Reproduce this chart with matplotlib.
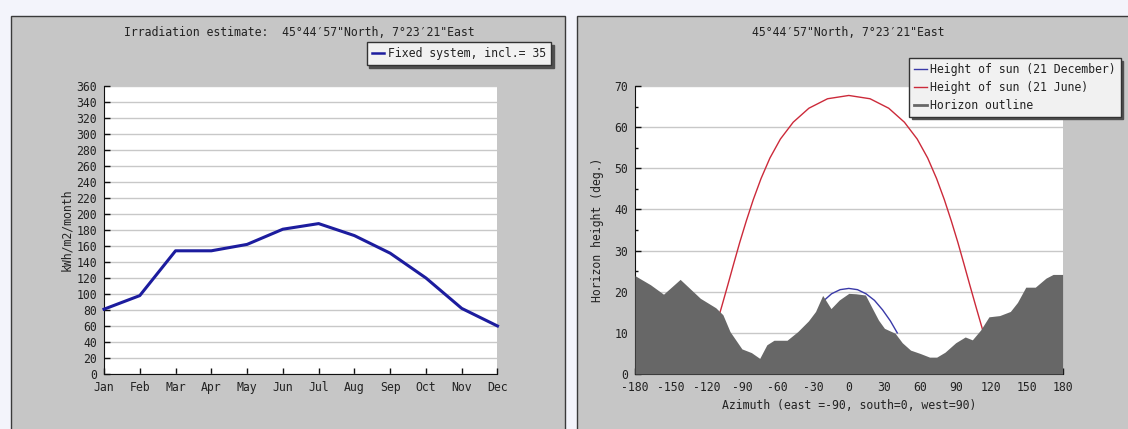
import matplotlib
matplotlib.use("Agg")
import matplotlib.pyplot as plt
from matplotlib.patches import Rectangle

# ---------------- data ----------------
months = ["Jan", "Feb", "Mar", "Apr", "May", "Jun", "Jul", "Aug", "Sep", "Oct", "Nov", "Dec"]
irradiation = [81, 98, 154, 154, 162, 181, 188, 173, 151, 120, 82, 60]
irr_yticks = list(range(0, 361, 20))

dec_az = [-20.0, -14.5, -7.3, 0.0, 7.3, 14.5, 21.6, 28.4, 35.0, 40.8]
dec_alt = [18.1, 19.5, 20.5, 20.8, 20.5, 19.5, 17.9, 15.6, 12.9, 10.0]

jun_az = [-108.4, -106.8, -101.9, -96.9, -91.8, -86.3, -80.4, -73.9, -66.4, -57.6, -46.8,
          -33.6, -17.9, 0.0, 17.9, 33.6, 46.8, 57.6, 66.4, 73.9, 80.4, 86.3, 91.8, 96.9,
          101.9, 106.8, 111.8, 112.6]
jun_alt = [15.0, 16.6, 21.6, 26.8, 32.0, 37.2, 42.4, 47.5, 52.5, 57.1, 61.2,
           64.6, 66.9, 67.7, 66.9, 64.6, 61.2, 57.1, 52.5, 47.5, 42.4, 37.2, 32.0, 26.8,
           21.6, 16.6, 11.6, 10.8]

hz_az = [-180, -167, -156, -142, -125, -112, -106, -100, -90, -82, -75, -69, -63, -52, -43,
         -34, -28, -22, -15, -8, 0, 6, 14, 19, 25, 30, 39, 45, 52, 60, 68, 74, 81, 90, 98,
         104, 111, 118, 127, 136, 142, 149, 157, 166, 172, 180]
hz_alt = [23.9, 21.7, 19.4, 23.0, 18.4, 16.1, 14.4, 10.3, 6.1, 5.2, 3.8, 7.1, 8.2, 8.2, 10.3,
          12.9, 15.2, 19.1, 15.9, 18.0, 19.6, 19.5, 19.2, 16.4, 13.1, 11.1, 9.9, 7.6, 5.8, 5.0,
          4.1, 4.1, 5.3, 7.6, 9.0, 8.3, 10.7, 13.9, 14.2, 15.2, 17.4, 21.1, 21.1, 23.3, 24.2, 24.2]
az_ticks = list(range(-180, 181, 30))
alt_ticks = list(range(0, 71, 10))
alt_minor = list(range(5, 70, 10))

# ---------------- style ----------------
FONT = ["DejaVu Sans Mono", "DejaVu Sans"]
FS = 8.3
plt.rcParams["font.family"] = FONT
plt.rcParams["font.size"] = FS
plt.rcParams["axes.unicode_minus"] = False
plt.rcParams["xtick.direction"] = "in"
plt.rcParams["ytick.direction"] = "in"

W, H = 1128, 429
fig = plt.figure(figsize=(W / 100, H / 100), dpi=100)
fig.patch.set_facecolor("#f3f4fb")

PANEL = "#c6c6c6"
def px_rect(x0, y0, x1, y1):
    return (x0 / W, 1 - y1 / H, (x1 - x0) / W, (y1 - y0) / H)

for (x0, y0, x1, y1) in [(11, 16, 565, 440), (577, 16, 1140, 440)]:
    l, b, w, h = px_rect(x0, y0, x1, y1)
    fig.patches.append(Rectangle((l, b), w, h, transform=fig.transFigure,
                                 facecolor=PANEL, edgecolor="#3a3a3a", lw=1.0, zorder=-5))

ax_b = 1 - 374 / H
ax_h = (374 - 86) / H
ax1 = fig.add_axes([104 / W, ax_b, (497.5 - 104) / W, ax_h])
ax2 = fig.add_axes([635 / W, ax_b, (1062.6 - 635) / W, ax_h])

TXT = "#222222"
for ax in (ax1, ax2):
    ax.set_zorder(2)
    ax.set_facecolor("white")
    ax.spines["top"].set_visible(False)
    ax.spines["right"].set_visible(False)
    ax.spines["left"].set_color("#111111")
    ax.spines["bottom"].set_color("#111111")
    ax.tick_params(which="major", direction="in", length=4, width=1, colors="#111111",
                   labelcolor=TXT, labelsize=FS, pad=5)
    ax.set_axisbelow(True)

# ---------------- left chart ----------------
x = list(range(len(months)))
ax1.plot(x, irradiation, color="#1c1c9e", lw=2.2, solid_joinstyle="round",
         label="Fixed system, incl.= 35", zorder=3, clip_on=False)
ax1.set_xlim(0, len(months) - 1)
ax1.set_ylim(0, 360)
ax1.set_xticks(x)
ax1.set_xticklabels(months)
ax1.set_yticks(irr_yticks)
ax1.grid(axis="y", color="#c8c8c8", lw=1.0)
ax1.set_ylabel("kWh/m2/month", color=TXT, fontsize=FS)
ax1.yaxis.set_label_coords((73.5 - 104) / (497.5 - 104), 0.5)

fig.text((124 + 475) / 2 / W, 1 - 32 / H,
         "Irradiation estimate:  45°44′57\"North, 7°23′21\"East",
         ha="center", va="center", color=TXT, fontsize=FS, family=FONT, zorder=5)

SHADOW = {"facecolor": "#505050", "edgecolor": "#505050", "alpha": 1.0}
leg1 = ax1.legend(loc="upper left", bbox_to_anchor=(366.5 / W, 1 - 42 / H),
                  bbox_transform=fig.transFigure, borderaxespad=0, frameon=True,
                  fancybox=False, shadow=SHADOW,
                  handlelength=1.1, handletextpad=0.3, borderpad=0.45, fontsize=FS)
leg1.get_frame().set_facecolor("#f1f1f1")
leg1.get_frame().set_edgecolor("#333333")
leg1.get_frame().set_linewidth(1.0)
leg1.get_frame().set_alpha(1.0)
for t in leg1.get_texts():
    t.set_color(TXT)
for h in leg1.get_lines():
    h.set_linewidth(1.8)

# ---------------- right chart ----------------
ax2.plot(dec_az, dec_alt, color="#3a3aa8", lw=1.0, label="Height of sun (21 December)", zorder=3)
ax2.plot(jun_az, jun_alt, color="#cc2a3a", lw=1.0, label="Height of sun (21 June)", zorder=3)
ax2.fill_between(hz_az, 0, hz_alt, color="#676767", lw=0, zorder=4)
ax2.plot([], [], color="#676767", lw=2, label="Horizon outline")
ax2.set_xlim(-180, 180)
ax2.set_ylim(0, 70)
ax2.set_xticks(az_ticks)
ax2.set_yticks(alt_ticks)
ax2.set_yticks(alt_minor, minor=True)
ax2.yaxis.set_tick_params(which="minor", direction="in", length=2.5, width=1, color="#111111")
ax2.grid(axis="y", which="major", color="#c8c8c8", lw=1.0)
ax2.set_ylabel("Horizon height (deg.)", color=TXT, fontsize=FS)
ax2.yaxis.set_label_coords((604.3 - 635) / (1062.6 - 635), 0.5)
ax2.set_xlabel("Azimuth (east =-90, south=0, west=90)", color=TXT, fontsize=FS)
ax2.xaxis.set_label_coords(0.5, (374 - 399) / (374 - 86))

fig.text(848 / W, 1 - 32 / H, "45°44′57\"North, 7°23′21\"East",
         ha="center", va="center", color=TXT, fontsize=FS, family=FONT, zorder=5)

leg2 = ax2.legend(loc="upper left", bbox_to_anchor=(909 / W, 1 - 58 / H),
                  bbox_transform=fig.transFigure, borderaxespad=0, frameon=True,
                  fancybox=False, shadow=SHADOW,
                  handlelength=1.2, handletextpad=0.25, borderpad=0.4, labelspacing=0.45,
                  fontsize=FS)
leg2.get_frame().set_facecolor("#f1f1f1")
leg2.get_frame().set_edgecolor("#333333")
leg2.get_frame().set_linewidth(1.0)
leg2.get_frame().set_alpha(1.0)
for t in leg2.get_texts():
    t.set_color(TXT)

fig.savefig("out.png", dpi=100, facecolor=fig.get_facecolor())
